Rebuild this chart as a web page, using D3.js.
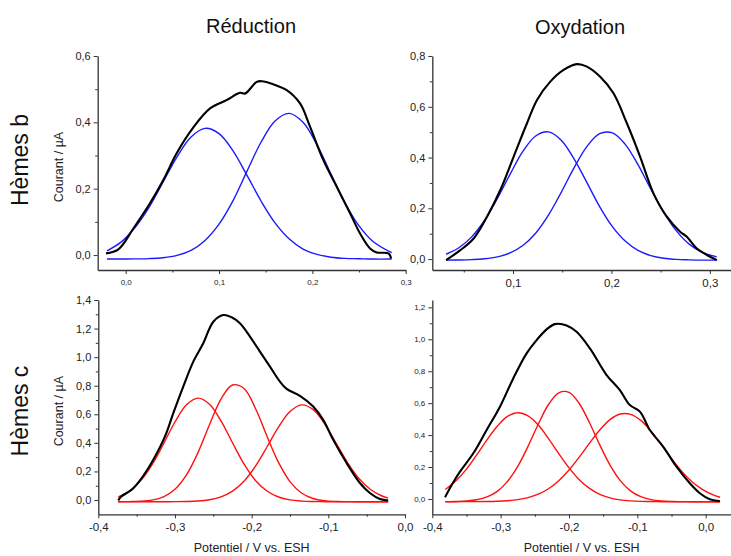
<!DOCTYPE html>
<html><head><meta charset="utf-8">
<script src="https://cdn.jsdelivr.net/npm/d3@7"></script>
<style>
body{margin:0;background:#fff;}
svg{display:block;font-family:"Liberation Sans",Arial,sans-serif;}
</style></head><body>
<svg id="chart" width="731" height="556"></svg>
<script>
// ---------- Data ----------
const colTitles = ["Réduction", "Oxydation"];
const rowTitles = ["Hèmes b", "Hèmes c"];
const yTitle = "Courant / µA";
const xTitle = "Potentiel / V vs. ESH";

// Hèmes b – Réduction
const bRedExpX = [-0.0211,-0.0079,0.0082,0.026,0.0403,0.0546,0.0725,0.0904,0.108,0.1225,0.128,0.1404,0.1458,0.158,0.1725,0.1868,0.1975,0.2118,0.2261,0.2404,0.2511,0.2618,0.269,0.2815,0.2844];
const bRedExpY = [0.005,0.017,0.080,0.156,0.226,0.307,0.385,0.442,0.467,0.489,0.487,0.522,0.524,0.515,0.497,0.457,0.387,0.286,0.206,0.126,0.065,0.020,0.008,0.005,-0.010];
const bRedFitX = [-0.02,-0.005,0.01,0.025,0.04,0.055,0.07,0.085,0.10,0.115,0.13,0.145,0.16,0.175,0.19,0.205,0.22,0.235,0.25,0.265,0.285];
const bRedFit1 = [0.013,0.039,0.083,0.144,0.220,0.296,0.356,0.382,0.366,0.314,0.240,0.163,0.097,0.049,0.018,0.002,-0.0065,-0.010,-0.011,-0.012,-0.012];
const bRedFit2 = [-0.012,-0.012,-0.0115,-0.0106,-0.008,-0.001,0.014,0.044,0.093,0.164,0.253,0.340,0.404,0.427,0.400,0.332,0.244,0.157,0.088,0.041,0.007];

// Hèmes b – Oxydation
const bOxExpX = [0.032,0.0465,0.060,0.0736,0.0871,0.1006,0.1142,0.1244,0.1379,0.1514,0.165,0.1751,0.1886,0.2021,0.2157,0.2292,0.2427,0.2563,0.2698,0.2766,0.2868,0.297,0.3071];
const bOxExpY = [-0.004,0.035,0.081,0.167,0.272,0.403,0.535,0.627,0.699,0.745,0.768,0.758,0.718,0.653,0.535,0.403,0.259,0.167,0.108,0.088,0.042,0.016,-0.004];
const bOxFitX = [0.032,0.045,0.058,0.071,0.084,0.097,0.11,0.123,0.136,0.149,0.162,0.175,0.188,0.201,0.214,0.227,0.24,0.253,0.266,0.279,0.292,0.307];
const bOxFit1 = [0.019,0.0445,0.0875,0.152,0.238,0.334,0.424,0.485,0.501,0.4685,0.395,0.302,0.207,0.128,0.071,0.034,0.0137,0.0034,-0.0012,-0.003,-0.004,-0.004];
const bOxFit2 = [-0.004,-0.0034,-0.002,0.0011,0.0086,0.0244,0.0537,0.102,0.173,0.263,0.359,0.443,0.494,0.497,0.452,0.372,0.276,0.185,0.111,0.059,0.0275,0.0085];

// Hèmes c – Réduction
const cRedExpX = [-0.374,-0.370,-0.3565,-0.3434,-0.3283,-0.313,-0.3022,-0.2892,-0.2761,-0.2631,-0.250,-0.237,-0.2261,-0.2153,-0.2022,-0.1892,-0.1761,-0.1631,-0.1544,-0.137,-0.1197,-0.1067,-0.0936,-0.0762,-0.0588,-0.0458,-0.0327,-0.0219];
const cRedExpY = [-0.003,0.025,0.072,0.154,0.282,0.445,0.608,0.794,0.969,1.097,1.248,1.295,1.279,1.237,1.144,1.039,0.934,0.829,0.778,0.729,0.654,0.561,0.421,0.259,0.119,0.049,0.007,-0.003];
const cRedFitX = [-0.374,-0.36,-0.345,-0.33,-0.315,-0.30,-0.285,-0.27,-0.255,-0.24,-0.225,-0.21,-0.195,-0.18,-0.165,-0.15,-0.135,-0.12,-0.105,-0.09,-0.075,-0.06,-0.045,-0.03,-0.022];
const cRedFit1 = [0.021,0.060,0.134,0.246,0.392,0.546,0.666,0.713,0.670,0.554,0.401,0.253,0.137,0.063,0.021,0.0006,-0.0077,-0.0107,-0.0117,-0.012,-0.012,-0.012,-0.012,-0.012,-0.012];
const cRedFit2 = [-0.012,-0.011,-0.0087,-0.0005,0.0225,0.075,0.1755,0.332,0.527,0.707,0.805,0.780,0.641,0.447,0.263,0.129,0.049,0.0107,-0.0048,-0.010,-0.0115,-0.012,-0.012,-0.012,-0.012];
const cRedFit3 = [-0.012,-0.012,-0.012,-0.012,-0.012,-0.0115,-0.0104,-0.0071,0.0018,0.0217,0.0626,0.132,0.237,0.371,0.510,0.619,0.666,0.634,0.535,0.399,0.2625,0.151,0.074,0.028,0.0134];

// Hèmes c – Oxydation
const cOxExpX = [-0.3814,-0.3716,-0.3595,-0.340,-0.3205,-0.301,-0.2816,-0.262,-0.2474,-0.2328,-0.2206,-0.2035,-0.1889,-0.1694,-0.145,-0.1256,-0.111,-0.0963,-0.0817,-0.0623,-0.0427,-0.0232,-0.0086,0.006,0.0206];
const cOxExpY = [0.011,0.088,0.171,0.286,0.432,0.578,0.755,0.912,0.995,1.062,1.095,1.087,1.047,0.943,0.776,0.682,0.588,0.547,0.432,0.328,0.202,0.098,0.036,-0.002,-0.013];
const cOxFitX = [-0.381,-0.365,-0.35,-0.335,-0.32,-0.305,-0.29,-0.275,-0.26,-0.245,-0.23,-0.215,-0.2,-0.185,-0.17,-0.155,-0.14,-0.125,-0.11,-0.095,-0.08,-0.065,-0.05,-0.035,-0.02,-0.005,0.01,0.021];
const cOxFit1 = [0.059,0.116,0.187,0.276,0.370,0.455,0.517,0.540,0.520,0.463,0.378,0.284,0.195,0.121,0.066,0.029,0.007,-0.006,-0.012,-0.015,-0.016,-0.017,-0.017,-0.017,-0.017,-0.017,-0.017,-0.017];
const cOxFit2 = [-0.0166,-0.0155,-0.0126,-0.005,0.0127,0.0476,0.110,0.204,0.3295,0.468,0.5915,0.665,0.668,0.598,0.477,0.3385,0.212,0.115,0.051,0.0143,-0.004,-0.0122,-0.0154,-0.0165,-0.017,-0.017,-0.017,-0.017];
const cOxFit3 = [-0.017,-0.017,-0.0168,-0.0166,-0.016,-0.0144,-0.011,-0.0043,0.0082,0.0297,0.064,0.114,0.181,0.262,0.3495,0.432,0.497,0.532,0.530,0.492,0.424,0.340,0.253,0.173,0.108,0.060,0.027,0.011];

// Tick values
const bRedXTicks = [0.0, 0.1, 0.2, 0.3];
const bRedXMinor = [0.05, 0.15, 0.25];
const bRedYTicks = [0.0, 0.2, 0.4, 0.6];
const bRedYMinor = [0.1, 0.3, 0.5];
const bOxXTicks = [0.1, 0.2, 0.3];
const bOxXMinor = [0.05, 0.15, 0.25];
const bOxYTicks = [0.0, 0.2, 0.4, 0.6, 0.8];
const bOxYMinor = [0.1, 0.3, 0.5, 0.7];
const cRedXTicks = [-0.4, -0.3, -0.2, -0.1, 0.0];
const cRedXMinor = [-0.35, -0.25, -0.15, -0.05];
const cRedYTicks = [0.0, 0.2, 0.4, 0.6, 0.8, 1.0, 1.2, 1.4];
const cRedYMinor = [0.1, 0.3, 0.5, 0.7, 0.9, 1.1, 1.3];
const cOxXTicks = [-0.4, -0.3, -0.2, -0.1, 0.0];
const cOxXMinor = [-0.35, -0.25, -0.15, -0.05];
const cOxYTicks = [0.0, 0.2, 0.4, 0.6, 0.8, 1.0, 1.2];
const cOxYMinor = [0.1, 0.3, 0.5, 0.7, 0.9, 1.1];

// ---------- Drawing ----------
const svg = d3.select("#chart");
const fmt = v => d3.format(".1f")(v).replace("−", "-").replace(".", ",");
const zip = (xs, ys) => xs.map((x, i) => [x, ys[i]]);

const panels = [
  {xr:[97.7,405.7], yr:[270,56], xd:[-0.03,0.3], yd:[-0.045,0.6],
   xT:bRedXTicks, xM:bRedXMinor, yT:bRedYTicks, yM:bRedYMinor, xFs:8, yFs:11,
   exp:[bRedExpX,bRedExpY], fx:bRedFitX, fits:[bRedFit1,bRedFit2], color:"#1a1aff", yLab:true, xLab:false},
  {xr:[432.3,731], yr:[270,56], xd:[0.018,0.3215], yd:[-0.043,0.8],
   xT:bOxXTicks, xM:bOxXMinor, yT:bOxYTicks, yM:bOxYMinor, xFs:11.5, yFs:11,
   exp:[bOxExpX,bOxExpY], fx:bOxFitX, fits:[bOxFit1,bOxFit2], color:"#1a1aff", yLab:false, xLab:false},
  {xr:[98.3,405], yr:[514.3,300], xd:[-0.4,0.0], yd:[-0.1,1.4],
   xT:cRedXTicks, xM:cRedXMinor, yT:cRedYTicks, yM:cRedYMinor, xFs:11.5, yFs:11,
   exp:[cRedExpX,cRedExpY], fx:cRedFitX, fits:[cRedFit1,cRedFit2,cRedFit3], color:"#ff1010", yLab:true, xLab:true},
  {xr:[432.3,731], yr:[514.3,300], xd:[-0.4,0.037], yd:[-0.096,1.246],
   xT:cOxXTicks, xM:cOxXMinor, yT:cOxYTicks, yM:cOxYMinor, xFs:11.5, yFs:8,
   exp:[cOxExpX,cOxExpY], fx:cOxFitX, fits:[cOxFit1,cOxFit2,cOxFit3], color:"#ff1010", yLab:false, xLab:true}
];

const axisColor = "#333";
panels.forEach(p => {
  const x = d3.scaleLinear().domain(p.xd).range(p.xr);
  const y = d3.scaleLinear().domain(p.yd).range(p.yr);
  const g = svg.append("g");

  // minor ticks
  const xMinor = g.append("g").attr("transform", `translate(0,${p.yr[0]})`)
    .call(d3.axisBottom(x).tickValues(p.xM).tickSize(2.5).tickFormat(""));
  const yMinor = g.append("g").attr("transform", `translate(${p.xr[0]},0)`)
    .call(d3.axisLeft(y).tickValues(p.yM).tickSize(2.5).tickFormat(""));
  [xMinor, yMinor].forEach(a => { a.select(".domain").remove(); a.selectAll("line").attr("stroke", axisColor).attr("stroke-width", 1); });

  const xa = g.append("g").attr("transform", `translate(0,${p.yr[0]})`)
    .call(d3.axisBottom(x).tickValues(p.xT).tickSize(4).tickSizeOuter(0).tickPadding(5).tickFormat(fmt));
  const ya = g.append("g").attr("transform", `translate(${p.xr[0]},0)`)
    .call(d3.axisLeft(y).tickValues(p.yT).tickSize(4).tickSizeOuter(0).tickPadding(3).tickFormat(fmt));
  [xa, ya].forEach(a => {
    a.select(".domain").attr("stroke", axisColor).attr("stroke-width", 1.3);
    a.selectAll(".tick line").attr("stroke", axisColor).attr("stroke-width", 1);
    a.selectAll("text").attr("fill", "#222").attr("font-family", "Liberation Sans, Arial, sans-serif");
  });
  xa.selectAll("text").attr("font-size", p.xFs);
  ya.selectAll("text").attr("font-size", p.yFs);

  const line = d3.line().x(d => x(d[0])).y(d => y(d[1])).curve(d3.curveCatmullRom.alpha(0.5));
  p.fits.forEach(f => {
    g.append("path").datum(zip(p.fx, f)).attr("d", line)
      .attr("fill", "none").attr("stroke", p.color).attr("stroke-width", 1.4);
  });
  g.append("path").datum(zip(p.exp[0], p.exp[1])).attr("d", line)
    .attr("fill", "none").attr("stroke", "#000").attr("stroke-width", 2.1).attr("stroke-linejoin", "round");

  if (p.yLab) {
    const cy = (p.yr[0] + p.yr[1]) / 2 + 4;
    svg.append("text").attr("transform", `translate(63,${cy}) rotate(-90)`)
      .attr("text-anchor", "middle").attr("font-size", 12.5).attr("fill", "#222").text(yTitle);
  }
  if (p.xLab) {
    svg.append("text").attr("x", (p.xr[0] + p.xr[1]) / 2).attr("y", 552)
      .attr("text-anchor", "middle").attr("font-size", 12.5).attr("fill", "#222").text(xTitle);
  }
});

// Column titles
svg.append("text").attr("x", 251).attr("y", 33).attr("text-anchor", "middle")
  .attr("font-size", 20).attr("fill", "#111").text(colTitles[0]);
svg.append("text").attr("x", 580).attr("y", 34).attr("text-anchor", "middle")
  .attr("font-size", 20).attr("fill", "#111").text(colTitles[1]);
// Row titles
svg.append("text").attr("transform", "translate(28,160) rotate(-90)").attr("text-anchor", "middle")
  .attr("font-size", 23).attr("fill", "#111").text(rowTitles[0]);
svg.append("text").attr("transform", "translate(28,411) rotate(-90)").attr("text-anchor", "middle")
  .attr("font-size", 23).attr("fill", "#111").text(rowTitles[1]);
</script>
</body></html>
